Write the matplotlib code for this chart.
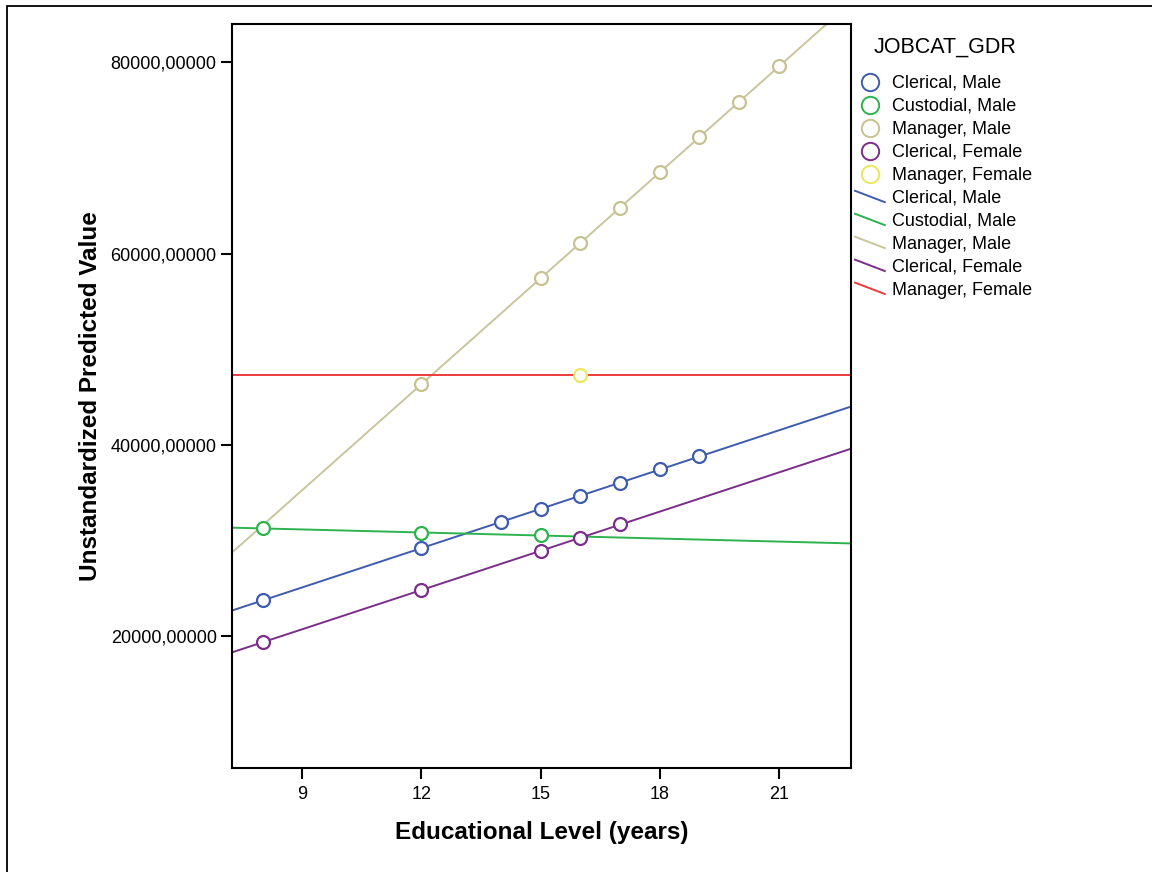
import numpy as np
import matplotlib
matplotlib.use("Agg")
import matplotlib.pyplot as plt
from matplotlib.lines import Line2D
from matplotlib.legend_handler import HandlerLine2D
from matplotlib.patches import Rectangle
from matplotlib.ticker import FuncFormatter

plt.rcParams['font.family'] = ['Liberation Sans', 'DejaVu Sans']

# ---- data ----
groups = ["Clerical, Male", "Custodial, Male", "Manager, Male",
          "Clerical, Female", "Manager, Female"]

clerical_male_x = [8, 12, 14, 15, 16, 17, 18, 19]
clerical_male_y = [23750, 29190, 31910, 33270, 34630, 35990, 37450, 38810]

custodial_male_x = [8, 12, 15]
custodial_male_y = [31280, 30760, 30550]

manager_male_x = [12, 15, 16, 17, 18, 19, 20, 21]
manager_male_y = [46340, 57420, 61080, 64740, 68500, 72160, 75820, 79580]

clerical_female_x = [8, 12, 15, 16, 17]
clerical_female_y = [19360, 24800, 28880, 30230, 31700]

manager_female_x = [16]
manager_female_y = [47280]

marker_colors = ["#3F5BB0", "#2DB34E", "#C6C291", "#7B2D8B", "#E9E85C"]
line_colors = ["#3F5BB0", "#2DB34E", "#C8C69C", "#7B2D8B", "#EE3B3B"]

x_ticks = [9, 12, 15, 18, 21]
y_ticks = [20000, 40000, 60000, 80000]
x_lim = (7.23, 22.82)
y_lim = (6200, 84000)

series_x = [clerical_male_x, custodial_male_x, manager_male_x,
            clerical_female_x, manager_female_x]
series_y = [clerical_male_y, custodial_male_y, manager_male_y,
            clerical_female_y, manager_female_y]

# ---- figure ----
W, H = 1152, 872
fig = plt.figure(figsize=(W / 100, H / 100), dpi=100)
fig.patches.append(Rectangle((7 / W, -0.1), 1.2, 1 - 5.5 / H + 0.1,
                             transform=fig.transFigure, fill=False,
                             edgecolor='black', linewidth=1.3, zorder=0))

ax = fig.add_axes([232 / W, 1 - 768 / H, (851 - 232) / W, (768 - 24) / H])

xs_line = np.array(x_lim)
for i in range(len(groups)):
    xv = np.array(series_x[i], dtype=float)
    yv = np.array(series_y[i], dtype=float)
    if len(xv) > 1:
        k, b = np.polyfit(xv, yv, 1)
    else:
        k, b = 0.0, yv[0]
    ax.plot(xs_line, k * xs_line + b, color=line_colors[i], lw=1.4, zorder=2)

for i in range(len(groups)):
    ax.plot(series_x[i], series_y[i], linestyle='none', marker='o',
            markersize=9.3, markerfacecolor='white',
            markeredgecolor=marker_colors[i], markeredgewidth=1.6, zorder=3)

ax.set_xlim(*x_lim)
ax.set_ylim(*y_lim)
ax.set_xticks(x_ticks)
ax.set_yticks(y_ticks)
ax.yaxis.set_major_formatter(FuncFormatter(lambda v, p: f"{v:.5f}".replace('.', ',')))
ax.tick_params(axis='both', direction='out', length=8, width=1.5,
               labelsize=13, pad=3, colors='black')
ax.tick_params(axis='x', pad=5)
for s in ax.spines.values():
    s.set_linewidth(1.5)
    s.set_color('black')

ax.set_xlabel("Educational Level (years)", fontsize=17.5, fontweight='bold', labelpad=13)
ax.set_ylabel("Unstandardized Predicted Value", fontsize=17.5, fontweight='bold', labelpad=6)


class DiagHandler(HandlerLine2D):
    def create_artists(self, legend, orig_handle, xdescent, ydescent,
                       width, height, fontsize, trans):
        x0 = -xdescent
        x1 = -xdescent + width
        y0 = -ydescent + height * 0.95
        y1 = -ydescent + height * 0.05
        ln = Line2D([x0, x1], [y0, y1], color=orig_handle.get_color(),
                    lw=orig_handle.get_linewidth())
        ln.set_transform(trans)
        return [ln]


handles = []
labels = []
for i, g in enumerate(groups):
    handles.append(Line2D([], [], linestyle='none', marker='o', markersize=12.5,
                          markerfacecolor='none', markeredgecolor=marker_colors[i],
                          markeredgewidth=1.4))
    labels.append(g)
line_handles = []
for i, g in enumerate(groups):
    h = Line2D([], [], color=line_colors[i], lw=1.4)
    line_handles.append(h)
    handles.append(h)
    labels.append(g)

hmap = {h: DiagHandler() for h in line_handles}
fig.text(945 / W, 1 - 47 / H, "JOBCAT_GDR", fontsize=15.5,
         ha='center', va='center')
leg = fig.legend(handles, labels, loc='upper left',
                 bbox_to_anchor=(855 / W, 1 - 75 / H),
                 frameon=False, fontsize=13,
                 handlelength=1.65, handletextpad=0.4,
                 labelspacing=0.33, borderpad=0, borderaxespad=0,
                 handler_map=hmap)

fig.savefig("out.png", dpi=100)
